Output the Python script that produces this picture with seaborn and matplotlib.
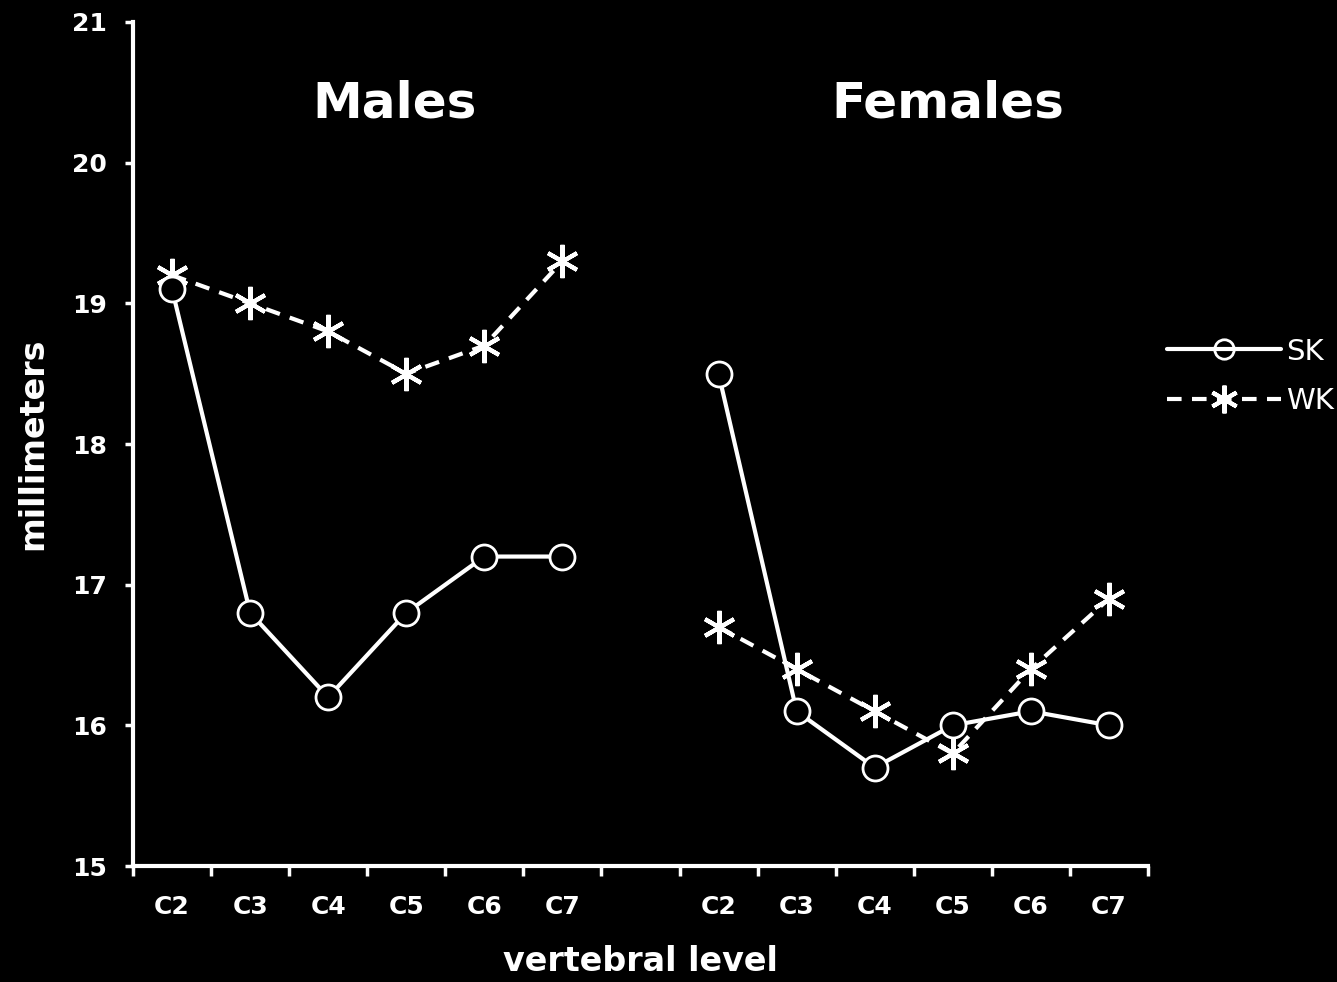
import numpy as np
import pandas as pd
import seaborn as sns
import matplotlib
matplotlib.use("Agg")
import matplotlib.pyplot as plt
from matplotlib.lines import Line2D

# Vertebral levels for each panel
levels = ["C2", "C3", "C4", "C5", "C6", "C7"]

# Mean measurements (mm)
males_sk = [19.1, 16.8, 16.2, 16.8, 17.2, 17.2]
males_wk = [19.2, 19.0, 18.8, 18.5, 18.7, 19.3]
females_sk = [18.5, 16.1, 15.7, 16.0, 16.1, 16.0]
females_wk = [16.7, 16.4, 16.1, 15.8, 16.4, 16.9]

tick_labels = levels + [""] + levels

rows = []
for sex, offset, sk, wk in [("Males", 0, males_sk, males_wk),
                            ("Females", 7, females_sk, females_wk)]:
    for i, lvl in enumerate(levels):
        rows.append(dict(sex=sex, pos=offset + i, level=lvl, group="SK", mm=sk[i]))
        rows.append(dict(sex=sex, pos=offset + i, level=lvl, group="WK", mm=wk[i]))
df = pd.DataFrame(rows)

sns.set_style("ticks")
plt.rcParams["font.family"] = ["DejaVu Sans"]

fig = plt.figure(figsize=(13.37, 9.82), dpi=100, facecolor="black")
ax = fig.add_axes([0.0995, 0.1181, 0.7591, 0.8595])
ax.set_facecolor("black")

asterisk = (6, 2, 0)
lw = 3.0

# SK: solid line with hollow circles, one line per sex
sns.lineplot(data=df[df.group == "SK"], x="pos", y="mm", units="sex",
             estimator=None, sort=False, ax=ax, color="white", linewidth=lw,
             marker="o", markersize=18, markerfacecolor="black",
             markeredgecolor="white", markeredgewidth=2.0, zorder=3)
# WK: dashed line with asterisks
sns.lineplot(data=df[df.group == "WK"], x="pos", y="mm", units="sex",
             estimator=None, sort=False, ax=ax, color="white", linewidth=lw,
             linestyle=(0, (3.5, 2.5)), marker=asterisk, markersize=24,
             markeredgecolor="white", markeredgewidth=3.0, zorder=2)

ax.set_xlim(-0.5, 12.5)
ax.set_ylim(15, 21)
ax.set_yticks(np.arange(15, 22, 1))
ax.set_xticks(np.arange(13))
ax.set_xticklabels(tick_labels)
ax.set_xticks(np.arange(-0.5, 13, 1), minor=True)

for s in ["top", "right"]:
    ax.spines[s].set_visible(False)
for s in ["left", "bottom"]:
    ax.spines[s].set_color("white")
    ax.spines[s].set_linewidth(3)

ax.tick_params(axis="x", which="major", length=0, pad=21,
               labelsize=18, labelcolor="white")
ax.tick_params(axis="x", which="minor", length=7, width=2.5,
               color="white", direction="out")
ax.tick_params(axis="y", which="major", length=6, width=2.5, color="white",
               pad=13, labelsize=18, labelcolor="white")
for lab in ax.get_xticklabels() + ax.get_yticklabels():
    lab.set_fontweight("bold")

ax.set_xlabel("vertebral level", fontsize=24, fontweight="bold", color="white")
ax.set_ylabel("millimeters", fontsize=24, fontweight="bold", color="white")
ax.xaxis.set_label_coords(0.5, -0.093)
ax.yaxis.set_label_coords(-0.083, 0.5)

ax.text(2.85, 20.42, "Males", ha="center", va="center", fontsize=36,
        fontweight="bold", color="white")
ax.text(9.94, 20.42, "Females", ha="center", va="center", fontsize=36,
        fontweight="bold", color="white")

handles = [
    Line2D([], [], color="white", lw=lw, marker="o", markersize=14,
           markerfacecolor="none", markeredgecolor="white", markeredgewidth=2),
    Line2D([], [], color="white", lw=lw, ls=(0, (3.5, 2.5)), marker=asterisk,
           markersize=20, markeredgecolor="white", markeredgewidth=3),
]
leg = ax.legend(handles, ["SK", "WK"], loc="center left",
                bbox_to_anchor=(1.0, 0.58), frameon=False, fontsize=21,
                handlelength=3.9, handletextpad=0.2, labelspacing=0.75,
                borderaxespad=0.25)
for t in leg.get_texts():
    t.set_color("white")

fig.savefig("out.png", dpi=100, facecolor="black")
